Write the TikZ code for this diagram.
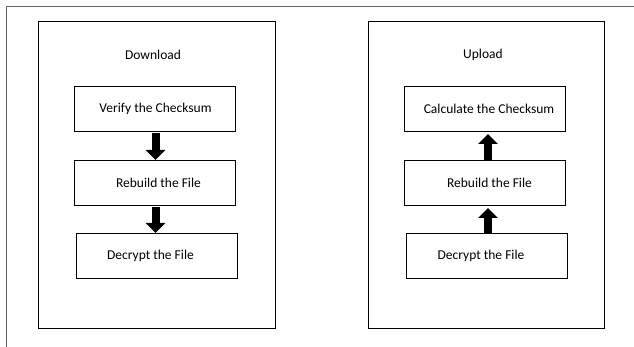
\documentclass[tikz,border=0pt]{standalone}
\usepackage{fontspec}
\setmainfont{Carlito}
\usetikzlibrary{arrows.meta,positioning}

\begin{document}
\begin{tikzpicture}[x=1pt,y=-1pt,
      outer_box/.style={
         rectangle,
         draw=black,
         line width=0.8pt,
         inner sep=0pt,
         outer sep=0pt,
         minimum width=237pt,
         minimum height=307pt},
      step_box/.style={
         rectangle,
         draw=black,
         line width=0.8pt,
         inner sep=0pt,
         outer sep=0pt,
         minimum width=161pt,
         minimum height=45pt,
         font=\fontsize{13.5}{16}\selectfont},
      title_text/.style={
         font=\fontsize{13.5}{16}\selectfont},
      arrow_thick/.style={
         -{Triangle[width=19pt,length=10pt]},
         line width=8pt,
         draw=black}
]
      \useasboundingbox (0,0) rectangle (634,347);
      %page frame
      \draw[gray!80!black,line width=0.8pt] (634,6) -- (6,6) -- (6,347);

      %download side
      \node[outer_box] (down) at (156.5,174.5) {};
      \node[title_text] (down_t) at (153,55) {Download};
      \node[step_box] (d1) at (154.5,108.5) {\hspace*{2pt}Verify the Checksum};
      \node[step_box,below=29pt of d1] (d2) {\hspace*{8pt}Rebuild the File};
      \node[step_box,below=28pt of d2,xshift=2pt] (d3) {Decrypt the File\hspace*{12pt}};

      %upload side
      \node[outer_box,minimum width=236pt] (up) at (486,174.5) {};
      \node[title_text] (up_t) at (483,55) {Upload};
      \node[step_box] (u1) at (485,108.5) {\hspace*{8pt}Calculate the Checksum};
      \node[step_box,below=29pt of u1] (u2) {\hspace*{9pt}Rebuild the File};
      \node[step_box,below=28pt of u2,xshift=2pt] (u3) {Decrypt the File\hspace*{12pt}};

    \foreach \i/\j in {d1/d2, d2/d3}
      \draw [arrow_thick,shorten <=2pt] ([xshift=1pt]\i.south) -- ([xshift=1pt]\i.south |- \j.north);

    \foreach \i/\j in {u3/u2, u2/u1}
      \draw [arrow_thick,shorten >=3pt] ([xshift=3pt]\j.south |- \i.north) -- ([xshift=3pt]\j.south);

\end{tikzpicture}
\end{document}
